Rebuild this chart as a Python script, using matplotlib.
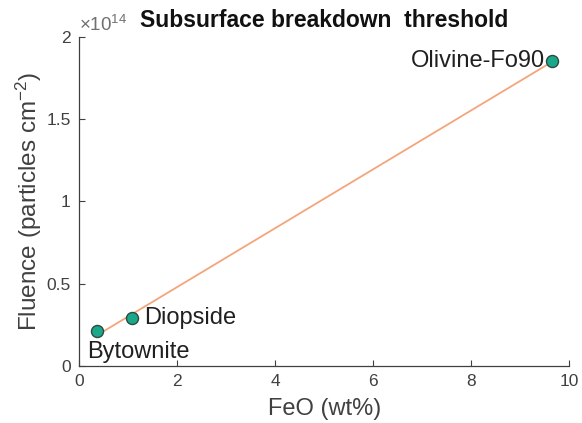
import numpy as np
import matplotlib.pyplot as plt

# Data
minerals = ["Bytownite", "Diopside", "Olivine-Fo90"]
feo = [0.37, 1.08, 9.65]          # wt%
fluence = [0.21e14, 0.29e14, 1.85e14]  # particles cm^-2

plt.rcParams['font.family'] = ['Liberation Sans', 'DejaVu Sans']
plt.rcParams['mathtext.fontset'] = 'custom'
plt.rcParams['mathtext.rm'] = 'Liberation Sans'
grey = "#404040"

fig = plt.figure(figsize=(5.82, 4.23), dpi=100)
ax = fig.add_axes([0.136, 0.135, 0.842, 0.778])

# linear fit through the points
p = np.polyfit(feo, fluence, 1)
xf = np.array([min(feo), max(feo)])
ax.plot(xf, np.polyval(p, xf), color="#f4a57c", lw=1.3, zorder=1)

ax.scatter(feo, fluence, s=75, color="#1aa88b", edgecolors="#2b4a40",
           linewidths=1.0, zorder=3)

# labels next to the points
ax.text(feo[0] - 0.2, fluence[0] - 0.06e14, minerals[0], fontsize=17,
        ha="left", va="top", color="#202020")
ax.text(feo[1] + 0.25, fluence[1], minerals[1], fontsize=17,
        ha="left", va="center", color="#202020")
ax.text(feo[2] - 0.15, fluence[2], minerals[2], fontsize=17,
        ha="right", va="center", color="#202020")

ax.set_xlim(0, 10)
ax.set_ylim(0, 2e14)
ax.set_xticks([0, 2, 4, 6, 8, 10])
ax.set_yticks([0, 0.5e14, 1e14, 1.5e14, 2e14])
ax.set_yticklabels(["0", "0.5", "1", "1.5", "2"])

for s in ["top", "right"]:
    ax.spines[s].set_visible(False)
for s in ["left", "bottom"]:
    ax.spines[s].set_color(grey)
    ax.spines[s].set_linewidth(0.9)
ax.tick_params(direction="in", length=4, colors=grey, labelsize=12.5,
               labelcolor=grey, pad=6)

ax.text(0.0, 1.005, r"$\mathregular{\times10^{14}}$", transform=ax.transAxes,
        fontsize=13.5, color="#707070", ha="left", va="bottom")

ax.set_xlabel("FeO (wt%)", fontsize=17, color=grey, labelpad=6)
ax.set_ylabel(r"Fluence (particles cm$\mathregular{^{-2}}$)", fontsize=17.5,
              color=grey, labelpad=2)
ax.set_title("Subsurface breakdown  threshold", fontsize=16.5,
             fontweight="bold", color="#111111", pad=7)

fig.savefig("out.png", dpi=100)
